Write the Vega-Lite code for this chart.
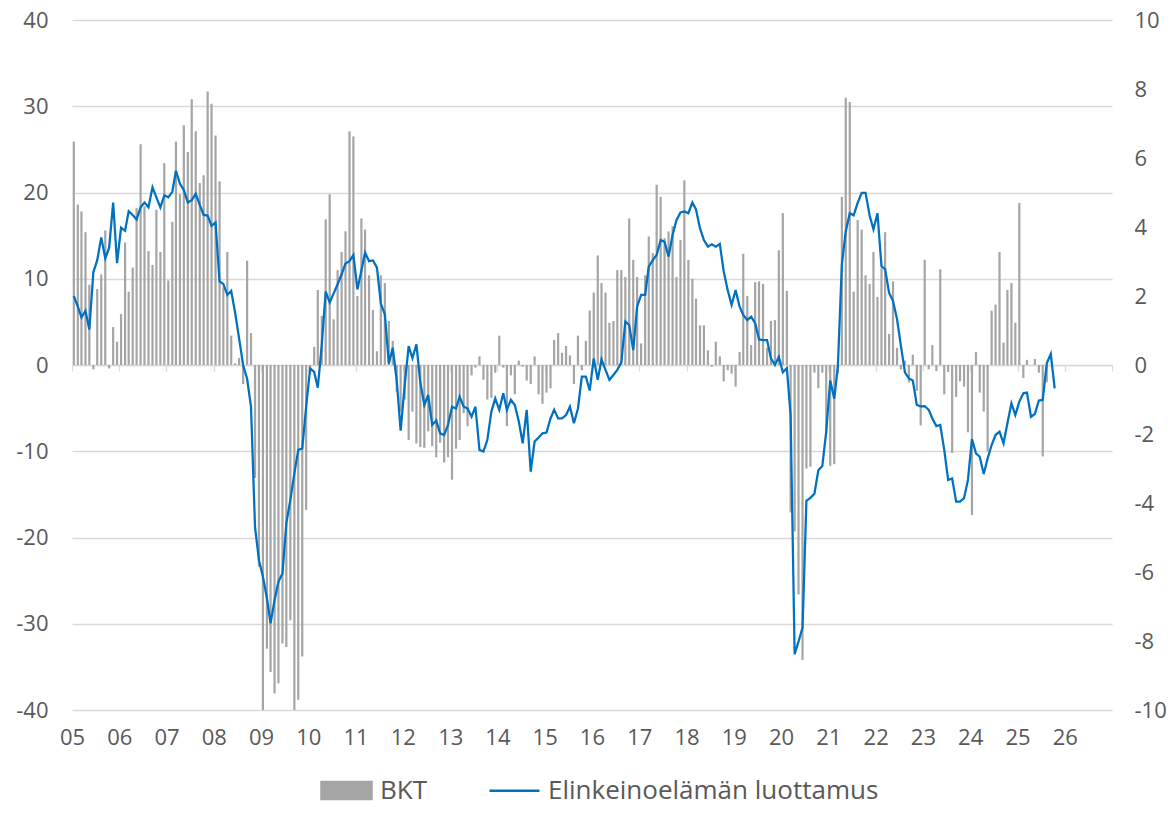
{
"$schema": "https://vega.github.io/schema/vega-lite/v6.json",
"width": 1040, "height": 690,
"autosize": {"type": "none"},
"padding": {"left": 72, "top": 20, "right": 58, "bottom": 119},
"background": "white",
"config": {"view": {"stroke": null}, "font": "Open Sans", "axis": {"labelFont": "Open Sans", "labelFontSize": 22, "labelColor": "#595959"}},
"data": {"values": [
{"d":"2005-01-15","bkt":25.9,"l":2.0},{"d":"2005-02-15","bkt":18.6,"l":1.69},{"d":"2005-03-15","bkt":17.8,"l":1.38},{"d":"2005-04-15","bkt":15.4,"l":1.57},{"d":"2005-05-15","bkt":9.3,"l":1.03},{"d":"2005-06-15","bkt":-0.5,"l":2.69},{"d":"2005-07-15","bkt":8.8,"l":3.04},{"d":"2005-08-15","bkt":10.5,"l":3.70},{"d":"2005-09-15","bkt":15.6,"l":3.09},{"d":"2005-10-15","bkt":-0.4,"l":3.40},{"d":"2005-11-15","bkt":4.4,"l":4.71},{"d":"2005-12-15","bkt":2.7,"l":2.95},
{"d":"2006-01-15","bkt":5.9,"l":3.98},{"d":"2006-02-15","bkt":14.2,"l":3.89},{"d":"2006-03-15","bkt":8.5,"l":4.46},{"d":"2006-04-15","bkt":11.3,"l":4.35},{"d":"2006-05-15","bkt":18.2,"l":4.22},{"d":"2006-06-15","bkt":25.6,"l":4.57},{"d":"2006-07-15","bkt":18.4,"l":4.71},{"d":"2006-08-15","bkt":13.2,"l":4.57},{"d":"2006-09-15","bkt":11.6,"l":5.15},{"d":"2006-10-15","bkt":18.0,"l":4.86},{"d":"2006-11-15","bkt":13.1,"l":4.57},{"d":"2006-12-15","bkt":23.4,"l":4.92},
{"d":"2007-01-15","bkt":9.8,"l":4.86},{"d":"2007-02-15","bkt":16.6,"l":5.02},{"d":"2007-03-15","bkt":25.9,"l":5.63},{"d":"2007-04-15","bkt":19.8,"l":5.25},{"d":"2007-05-15","bkt":27.8,"l":5.07},{"d":"2007-06-15","bkt":24.7,"l":4.71},{"d":"2007-07-15","bkt":30.8,"l":4.78},{"d":"2007-08-15","bkt":27.1,"l":4.96},{"d":"2007-09-15","bkt":21.1,"l":4.64},{"d":"2007-10-15","bkt":22.0,"l":4.35},{"d":"2007-11-15","bkt":31.7,"l":4.33},{"d":"2007-12-15","bkt":30.3,"l":4.03},
{"d":"2008-01-15","bkt":26.6,"l":4.13},{"d":"2008-02-15","bkt":21.3,"l":2.42},{"d":"2008-03-15","bkt":9.0,"l":2.35},{"d":"2008-04-15","bkt":13.1,"l":2.03},{"d":"2008-05-15","bkt":3.4,"l":2.15},{"d":"2008-06-15","bkt":0.2,"l":1.50},{"d":"2008-07-15","bkt":0.8,"l":0.77},{"d":"2008-08-15","bkt":-2.2,"l":0.0},{"d":"2008-09-15","bkt":12.1,"l":-0.4},{"d":"2008-10-15","bkt":3.7,"l":-1.21},{"d":"2008-11-15","bkt":-13.1,"l":-4.69},{"d":"2008-12-15","bkt":-23.4,"l":-5.65},
{"d":"2009-01-15","bkt":-40,"l":-6.14},{"d":"2009-02-15","bkt":-32.9,"l":-6.76},{"d":"2009-03-15","bkt":-35.6,"l":-7.49},{"d":"2009-04-15","bkt":-38.1,"l":-6.81},{"d":"2009-05-15","bkt":-36.9,"l":-6.28},{"d":"2009-06-15","bkt":-32.3,"l":-6.04},{"d":"2009-07-15","bkt":-32.7,"l":-4.59},{"d":"2009-08-15","bkt":-29.6,"l":-3.91},{"d":"2009-09-15","bkt":-40,"l":-3.14},{"d":"2009-10-15","bkt":-38.8,"l":-2.46},{"d":"2009-11-15","bkt":-33.8,"l":-2.42},{"d":"2009-12-15","bkt":-16.8,"l":-1.21},
{"d":"2010-01-15","bkt":-1.0,"l":-0.1},{"d":"2010-02-15","bkt":2.1,"l":-0.2},{"d":"2010-03-15","bkt":8.7,"l":-0.66},{"d":"2010-04-15","bkt":5.7,"l":0.6},{"d":"2010-05-15","bkt":16.9,"l":2.13},{"d":"2010-06-15","bkt":19.8,"l":1.81},{"d":"2010-07-15","bkt":5.3,"l":2.07},{"d":"2010-08-15","bkt":11.0,"l":2.34},{"d":"2010-09-15","bkt":13.1,"l":2.63},{"d":"2010-10-15","bkt":15.5,"l":2.94},{"d":"2010-11-15","bkt":27.1,"l":3.01},{"d":"2010-12-15","bkt":26.5,"l":3.19},
{"d":"2011-01-15","bkt":8.0,"l":2.19},{"d":"2011-02-15","bkt":17.0,"l":2.74},{"d":"2011-03-15","bkt":15.7,"l":3.26},{"d":"2011-04-15","bkt":10.4,"l":3.01},{"d":"2011-05-15","bkt":6.4,"l":3.03},{"d":"2011-06-15","bkt":1.6,"l":2.82},{"d":"2011-07-15","bkt":10.4,"l":1.78},{"d":"2011-08-15","bkt":9.5,"l":1.47},{"d":"2011-09-15","bkt":5.1,"l":0.04},{"d":"2011-10-15","bkt":2.8,"l":0.50},{"d":"2011-11-15","bkt":-3.1,"l":-0.46},{"d":"2011-12-15","bkt":-5.4,"l":-1.9},
{"d":"2012-01-15","bkt":-4.0,"l":-0.6},{"d":"2012-02-15","bkt":-8.7,"l":0.55},{"d":"2012-03-15","bkt":-5.4,"l":0.2},{"d":"2012-04-15","bkt":-9.1,"l":0.6},{"d":"2012-05-15","bkt":-9.5,"l":-0.5},{"d":"2012-06-15","bkt":-9.6,"l":-1.16},{"d":"2012-07-15","bkt":-7.7,"l":-0.87},{"d":"2012-08-15","bkt":-9.4,"l":-1.74},{"d":"2012-09-15","bkt":-10.7,"l":-1.61},{"d":"2012-10-15","bkt":-9.0,"l":-1.98},{"d":"2012-11-15","bkt":-11.3,"l":-2.03},{"d":"2012-12-15","bkt":-10.7,"l":-1.74},
{"d":"2013-01-15","bkt":-13.3,"l":-1.21},{"d":"2013-02-15","bkt":-9.7,"l":-1.26},{"d":"2013-03-15","bkt":-8.7,"l":-0.92},{"d":"2013-04-15","bkt":-5.6,"l":-1.21},{"d":"2013-05-15","bkt":-7.1,"l":-1.26},{"d":"2013-06-15","bkt":-1.2,"l":-1.5},{"d":"2013-07-15","bkt":-0.3,"l":-1.21},{"d":"2013-08-15","bkt":1.0,"l":-2.46},{"d":"2013-09-15","bkt":-1.7,"l":-2.51},{"d":"2013-10-15","bkt":-4.0,"l":-2.17},{"d":"2013-11-15","bkt":-3.8,"l":-1.35},{"d":"2013-12-15","bkt":-0.9,"l":-0.97},
{"d":"2014-01-15","bkt":3.4,"l":-1.30},{"d":"2014-02-15","bkt":-0.3,"l":-0.82},{"d":"2014-03-15","bkt":-7.1,"l":-1.30},{"d":"2014-04-15","bkt":-1.2,"l":-1.01},{"d":"2014-05-15","bkt":-3.4,"l":-1.16},{"d":"2014-06-15","bkt":0.5,"l":-1.64},{"d":"2014-07-15","bkt":-0.2,"l":-2.27},{"d":"2014-08-15","bkt":-1.8,"l":-1.30},{"d":"2014-09-15","bkt":-2.2,"l":-3.09},{"d":"2014-10-15","bkt":1.0,"l":-2.22},{"d":"2014-11-15","bkt":-3.4,"l":-2.10},{"d":"2014-12-15","bkt":-4.5,"l":-1.98},
{"d":"2015-01-15","bkt":-3.2,"l":-1.96},{"d":"2015-02-15","bkt":-2.7,"l":-1.55},{"d":"2015-03-15","bkt":2.9,"l":-1.30},{"d":"2015-04-15","bkt":3.7,"l":-1.55},{"d":"2015-05-15","bkt":1.4,"l":-1.55},{"d":"2015-06-15","bkt":2.2,"l":-1.45},{"d":"2015-07-15","bkt":1.1,"l":-1.21},{"d":"2015-08-15","bkt":-2.2,"l":-1.69},{"d":"2015-09-15","bkt":3.4,"l":-1.26},{"d":"2015-10-15","bkt":-0.6,"l":-0.34},{"d":"2015-11-15","bkt":2.8,"l":-0.34},{"d":"2015-12-15","bkt":6.3,"l":-0.74},
{"d":"2016-01-15","bkt":8.4,"l":0.19},{"d":"2016-02-15","bkt":12.7,"l":-0.43},{"d":"2016-03-15","bkt":9.5,"l":0.16},{"d":"2016-04-15","bkt":8.4,"l":-0.14},{"d":"2016-05-15","bkt":4.9,"l":-0.43},{"d":"2016-06-15","bkt":5.1,"l":-0.29},{"d":"2016-07-15","bkt":11.0,"l":-0.14},{"d":"2016-08-15","bkt":11.0,"l":0.08},{"d":"2016-09-15","bkt":10.2,"l":1.26},{"d":"2016-10-15","bkt":17.0,"l":1.16},{"d":"2016-11-15","bkt":12.2,"l":0.43},{"d":"2016-12-15","bkt":10.2,"l":1.69},
{"d":"2017-01-15","bkt":2.5,"l":2.03},{"d":"2017-02-15","bkt":10.4,"l":2.03},{"d":"2017-03-15","bkt":14.9,"l":2.85},{"d":"2017-04-15","bkt":13.0,"l":3.04},{"d":"2017-05-15","bkt":20.9,"l":3.19},{"d":"2017-06-15","bkt":19.5,"l":3.62},{"d":"2017-07-15","bkt":14.7,"l":3.57},{"d":"2017-08-15","bkt":15.5,"l":3.14},{"d":"2017-09-15","bkt":16.1,"l":3.77},{"d":"2017-10-15","bkt":10.2,"l":4.20},{"d":"2017-11-15","bkt":14.5,"l":4.42},{"d":"2017-12-15","bkt":21.4,"l":4.45},
{"d":"2018-01-15","bkt":12.2,"l":4.40},{"d":"2018-02-15","bkt":10.0,"l":4.71},{"d":"2018-03-15","bkt":7.7,"l":4.51},{"d":"2018-04-15","bkt":4.6,"l":3.96},{"d":"2018-05-15","bkt":4.6,"l":3.62},{"d":"2018-06-15","bkt":1.7,"l":3.43},{"d":"2018-07-15","bkt":-0.2,"l":3.50},{"d":"2018-08-15","bkt":2.7,"l":3.43},{"d":"2018-09-15","bkt":1.0,"l":3.51},{"d":"2018-10-15","bkt":-1.9,"l":2.71},{"d":"2018-11-15","bkt":-0.6,"l":2.17},{"d":"2018-12-15","bkt":-1.0,"l":1.74},
{"d":"2019-01-15","bkt":-2.5,"l":2.17},{"d":"2019-02-15","bkt":1.5,"l":1.69},{"d":"2019-03-15","bkt":12.9,"l":1.45},{"d":"2019-04-15","bkt":8.0,"l":1.30},{"d":"2019-05-15","bkt":2.3,"l":1.40},{"d":"2019-06-15","bkt":9.6,"l":1.21},{"d":"2019-07-15","bkt":9.7,"l":0.74},{"d":"2019-08-15","bkt":9.4,"l":0.72},{"d":"2019-09-15","bkt":2.0,"l":0.72},{"d":"2019-10-15","bkt":5.1,"l":0.19},{"d":"2019-11-15","bkt":5.2,"l":0.0},{"d":"2019-12-15","bkt":13.3,"l":0.24},
{"d":"2020-01-15","bkt":17.6,"l":-0.21},{"d":"2020-02-15","bkt":8.6,"l":-0.09},{"d":"2020-03-15","bkt":-17.1,"l":-1.46},{"d":"2020-04-15","bkt":-19.3,"l":-8.38},{"d":"2020-05-15","bkt":-26.6,"l":-8.02},{"d":"2020-06-15","bkt":-34.2,"l":-7.61},{"d":"2020-07-15","bkt":-12.0,"l":-3.94},{"d":"2020-08-15","bkt":-11.8,"l":-3.85},{"d":"2020-09-15","bkt":-0.9,"l":-3.73},{"d":"2020-10-15","bkt":-2.7,"l":-3.05},{"d":"2020-11-15","bkt":-0.9,"l":-2.93},{"d":"2020-12-15","bkt":-8.0,"l":-1.93},
{"d":"2021-01-15","bkt":-11.7,"l":-0.45},{"d":"2021-02-15","bkt":-11.5,"l":-0.98},{"d":"2021-03-15","bkt":-1.0,"l":-0.04},{"d":"2021-04-15","bkt":19.5,"l":2.92},{"d":"2021-05-15","bkt":31.0,"l":3.87},{"d":"2021-06-15","bkt":30.5,"l":4.40},{"d":"2021-07-15","bkt":8.5,"l":4.34},{"d":"2021-08-15","bkt":16.8,"l":4.70},{"d":"2021-09-15","bkt":15.7,"l":4.99},{"d":"2021-10-15","bkt":10.4,"l":4.99},{"d":"2021-11-15","bkt":9.4,"l":4.34},{"d":"2021-12-15","bkt":13.1,"l":3.93},
{"d":"2022-01-15","bkt":7.9,"l":4.40},{"d":"2022-02-15","bkt":11.2,"l":2.86},{"d":"2022-03-15","bkt":15.4,"l":2.78},{"d":"2022-04-15","bkt":3.6,"l":2.09},{"d":"2022-05-15","bkt":9.7,"l":1.86},{"d":"2022-06-15","bkt":2.0,"l":1.33},{"d":"2022-07-15","bkt":-0.5,"l":0.56},{"d":"2022-08-15","bkt":0.5,"l":-0.21},{"d":"2022-09-15","bkt":-2.0,"l":-0.39},{"d":"2022-10-15","bkt":1.2,"l":-0.45},{"d":"2022-11-15","bkt":-3.0,"l":-1.16},{"d":"2022-12-15","bkt":-7.0,"l":-1.20},
{"d":"2023-01-15","bkt":12.2,"l":-1.19},{"d":"2023-02-15","bkt":-0.5,"l":-1.30},{"d":"2023-03-15","bkt":2.3,"l":-1.55},{"d":"2023-04-15","bkt":-0.7,"l":-1.77},{"d":"2023-05-15","bkt":11.1,"l":-1.74},{"d":"2023-06-15","bkt":-3.4,"l":-2.46},{"d":"2023-07-15","bkt":-0.8,"l":-3.33},{"d":"2023-08-15","bkt":-10.2,"l":-3.29},{"d":"2023-09-15","bkt":-3.7,"l":-3.96},{"d":"2023-10-15","bkt":-1.9,"l":-3.96},{"d":"2023-11-15","bkt":-2.5,"l":-3.86},{"d":"2023-12-15","bkt":-7.8,"l":-3.33},
{"d":"2024-01-15","bkt":-17.4,"l":-2.15},{"d":"2024-02-15","bkt":1.5,"l":-2.56},{"d":"2024-03-15","bkt":-3.2,"l":-2.66},{"d":"2024-04-15","bkt":-5.4,"l":-3.16},{"d":"2024-05-15","bkt":-10.0,"l":-2.71},{"d":"2024-06-15","bkt":6.3,"l":-2.32},{"d":"2024-07-15","bkt":7.0,"l":-2.03},{"d":"2024-08-15","bkt":13.1,"l":-1.93},{"d":"2024-09-15","bkt":2.6,"l":-2.27},{"d":"2024-10-15","bkt":8.7,"l":-1.69},{"d":"2024-11-15","bkt":9.5,"l":-1.11},{"d":"2024-12-15","bkt":4.9,"l":-1.45},
{"d":"2025-01-15","bkt":18.8,"l":-1.06},{"d":"2025-02-15","bkt":-1.5,"l":-0.82},{"d":"2025-03-15","bkt":0.6,"l":-0.80},{"d":"2025-04-15","bkt":0.0,"l":-1.50},{"d":"2025-05-15","bkt":0.7,"l":-1.42},{"d":"2025-06-15","bkt":-0.9,"l":-1.03},{"d":"2025-07-15","bkt":-10.6,"l":-1.01},{"d":"2025-08-15","bkt":-2.0,"l":0.05},{"d":"2025-09-15","bkt":null,"l":0.32},{"d":"2025-10-15","bkt":null,"l":-0.68}
]},
"layer": [
{"mark": {"type": "bar", "width": 2.2, "clip": true},
 "encoding": {
  "x": {"field": "d", "type": "temporal",
        "scale": {"type": "utc", "padding": 0, "domain": [{"year": 2005, "month": 1, "date": 1, "utc": true}, {"year": 2027, "month": 1, "date": 1, "utc": true}]},
        "axis": {"orient": "bottom", "title": null, "domain": false, "ticks": false, "tickSize": 0, "grid": false, "labelPadding": 17,
                 "labelExpr": "utcFormat(datum.value, '%y')", "labelOverlap": false, "labelFlush": false,
                 "values": [{"year":2005,"month":1,"date":1,"utc":true},{"year":2006,"month":1,"date":1,"utc":true},{"year":2007,"month":1,"date":1,"utc":true},{"year":2008,"month":1,"date":1,"utc":true},{"year":2009,"month":1,"date":1,"utc":true},{"year":2010,"month":1,"date":1,"utc":true},{"year":2011,"month":1,"date":1,"utc":true},{"year":2012,"month":1,"date":1,"utc":true},{"year":2013,"month":1,"date":1,"utc":true},{"year":2014,"month":1,"date":1,"utc":true},{"year":2015,"month":1,"date":1,"utc":true},{"year":2016,"month":1,"date":1,"utc":true},{"year":2017,"month":1,"date":1,"utc":true},{"year":2018,"month":1,"date":1,"utc":true},{"year":2019,"month":1,"date":1,"utc":true},{"year":2020,"month":1,"date":1,"utc":true},{"year":2021,"month":1,"date":1,"utc":true},{"year":2022,"month":1,"date":1,"utc":true},{"year":2023,"month":1,"date":1,"utc":true},{"year":2024,"month":1,"date":1,"utc":true},{"year":2025,"month":1,"date":1,"utc":true},{"year":2026,"month":1,"date":1,"utc":true}]}},
  "y": {"field": "bkt", "type": "quantitative", "scale": {"domain": [-40, 40], "nice": false},
        "axis": {"orient": "left", "title": null, "values": [-40,-30,-20,-10,0,10,20,30,40], "grid": true, "gridColor": "#D9D9D9", "gridWidth": 1.3,
                 "domain": false, "ticks": false, "tickSize": 0, "labelPadding": 24,
                 "labelExpr": "datum.value < 0 ? '-' + abs(datum.value) : '' + datum.value"}},
  "color": {"datum": "BKT", "type": "nominal",
            "scale": {"domain": ["BKT", "Elinkeinoelämän luottamus"], "range": ["#A5A5A5", "#0070C0"]},
            "legend": {"title": null, "orient": "none", "legendX": 248, "legendY": 744, "direction": "horizontal",
                       "symbolSize": 2500, "symbolType": "M-1,-0.34H1V0.34H-1Z", "labelFont": "Open Sans", "labelFontSize": 26,
                       "labelColor": "#595959", "labelOffset": 7, "columnPadding": 56, "symbolStrokeWidth": 2.5, "labelLimit": 500,
                       "encode": {"symbols": {"update": {
                          "shape": {"signal": "datum.value === 'BKT' ? 'M-1,-0.34H1V0.34H-1Z' : 'M-1,0H1'"},
                          "fill": {"signal": "datum.value === 'BKT' ? '#A5A5A5' : 'transparent'"},
                          "stroke": {"signal": "datum.value === 'BKT' ? 'transparent' : '#0070C0'"},
                          "strokeWidth": {"value": 2.5}, "opacity": {"value": 1}}}}}}
 }},
{"mark": {"type": "line", "strokeWidth": 2.25, "clip": true},
 "encoding": {
  "x": {"field": "d", "type": "temporal",
        "axis": {"orient": "bottom", "offset": -345, "title": null, "labels": false, "grid": false,
                 "domain": true, "domainColor": "#D9D9D9", "domainWidth": 1.5,
                 "ticks": true, "tickColor": "#D9D9D9", "tickSize": 6, "tickWidth": 1.3,
                 "values": [{"year":2005,"month":1,"date":1,"utc":true},{"year":2006,"month":1,"date":1,"utc":true},{"year":2007,"month":1,"date":1,"utc":true},{"year":2008,"month":1,"date":1,"utc":true},{"year":2009,"month":1,"date":1,"utc":true},{"year":2010,"month":1,"date":1,"utc":true},{"year":2011,"month":1,"date":1,"utc":true},{"year":2012,"month":1,"date":1,"utc":true},{"year":2013,"month":1,"date":1,"utc":true},{"year":2014,"month":1,"date":1,"utc":true},{"year":2015,"month":1,"date":1,"utc":true},{"year":2016,"month":1,"date":1,"utc":true},{"year":2017,"month":1,"date":1,"utc":true},{"year":2018,"month":1,"date":1,"utc":true},{"year":2019,"month":1,"date":1,"utc":true},{"year":2020,"month":1,"date":1,"utc":true},{"year":2021,"month":1,"date":1,"utc":true},{"year":2022,"month":1,"date":1,"utc":true},{"year":2023,"month":1,"date":1,"utc":true},{"year":2024,"month":1,"date":1,"utc":true},{"year":2025,"month":1,"date":1,"utc":true},{"year":2026,"month":1,"date":1,"utc":true},{"year":2027,"month":1,"date":1,"utc":true}]}},
  "y": {"field": "l", "type": "quantitative", "scale": {"domain": [-10, 10], "nice": false},
        "axis": {"orient": "right", "title": null, "values": [-10,-8,-6,-4,-2,0,2,4,6,8,10], "grid": false,
                 "domain": false, "ticks": false, "tickSize": 0, "labelPadding": 22,
                 "labelExpr": "datum.value < 0 ? '-' + abs(datum.value) : '' + datum.value"}},
  "color": {"datum": "Elinkeinoelämän luottamus", "type": "nominal"}
 }}
],
"resolve": {"scale": {"y": "independent"}, "axis": {"x": "independent", "y": "independent"}}
}
